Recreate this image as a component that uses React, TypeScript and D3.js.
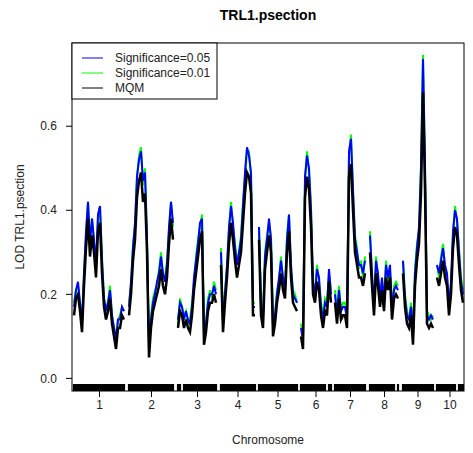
import React from 'react';
import * as d3 from 'd3';

// chromosome layout (cM), pseudomarker step 8 cM
const chromosomes = ['1', '2', '3', '4', '5', '6', '7', '8', '9', '10'];
const chrLengths = [204, 180, 156, 136, 152, 120, 124, 116, 120, 104];
const STEP = 8;
const GAP = 16;

// MQM LOD profile per chromosome
const mqmLod: number[][] = [
  [0.15, 0.19, 0.20, 0.16, 0.11, 0.22, 0.31, 0.38, 0.29, 0.34, 0.30, 0.24, 0.35, 0.37, 0.25, 0.17, 0.14, 0.16, 0.19, 0.13, 0.10, 0.07, 0.12, 0.12, 0.15, 0.14],
  [0.15, 0.20, 0.28, 0.33, 0.43, 0.47, 0.49, 0.42, 0.44, 0.30, 0.05, 0.12, 0.16, 0.18, 0.20, 0.22, 0.26, 0.22, 0.20, 0.24, 0.32, 0.38, 0.33],
  [0.12, 0.16, 0.15, 0.12, 0.14, 0.12, 0.11, 0.15, 0.21, 0.25, 0.29, 0.33, 0.35, 0.08, 0.11, 0.16, 0.18, 0.18, 0.20, 0.18],
  [0.27, 0.11, 0.18, 0.24, 0.32, 0.37, 0.33, 0.28, 0.24, 0.27, 0.30, 0.37, 0.44, 0.49, 0.48, 0.44, 0.15, 0.15],
  [0.33, 0.15, 0.12, 0.26, 0.30, 0.34, 0.30, 0.10, 0.13, 0.18, 0.21, 0.25, 0.21, 0.19, 0.30, 0.35, 0.24, 0.18, 0.17, 0.16],
  [0.10, 0.07, 0.43, 0.48, 0.45, 0.36, 0.20, 0.18, 0.23, 0.21, 0.15, 0.12, 0.16, 0.15, 0.23, 0.18],
  [0.18, 0.13, 0.19, 0.14, 0.15, 0.15, 0.12, 0.48, 0.51, 0.40, 0.30, 0.27, 0.24, 0.24, 0.22, 0.25],
  [0.30, 0.22, 0.15, 0.25, 0.22, 0.17, 0.21, 0.16, 0.24, 0.21, 0.24, 0.14, 0.19, 0.20, 0.19],
  [0.25, 0.17, 0.13, 0.12, 0.15, 0.08, 0.22, 0.28, 0.32, 0.44, 0.68, 0.45, 0.13, 0.12, 0.13, 0.12],
  [0.24, 0.22, 0.25, 0.28, 0.24, 0.22, 0.15, 0.20, 0.31, 0.36, 0.34, 0.27, 0.21, 0.18],
];

// Significance = 0.05
const sig05Lod: number[][] = [
  [0.17, 0.21, 0.23, 0.18, 0.13, 0.25, 0.35, 0.42, 0.32, 0.38, 0.33, 0.27, 0.39, 0.41, 0.28, 0.19, 0.16, 0.18, 0.21, 0.15, 0.12, 0.09, 0.14, 0.14, 0.17, 0.16],
  [0.17, 0.23, 0.31, 0.37, 0.48, 0.52, 0.54, 0.47, 0.49, 0.33, 0.07, 0.14, 0.18, 0.20, 0.23, 0.25, 0.29, 0.25, 0.23, 0.27, 0.36, 0.42, 0.37],
  [0.14, 0.18, 0.17, 0.14, 0.16, 0.14, 0.13, 0.17, 0.24, 0.28, 0.32, 0.37, 0.38, 0.10, 0.13, 0.18, 0.20, 0.20, 0.22, 0.20],
  [0.30, 0.13, 0.20, 0.27, 0.36, 0.41, 0.37, 0.31, 0.27, 0.30, 0.33, 0.41, 0.49, 0.55, 0.53, 0.49, 0.17, 0.17],
  [0.36, 0.17, 0.14, 0.29, 0.33, 0.38, 0.33, 0.12, 0.15, 0.20, 0.24, 0.28, 0.24, 0.21, 0.33, 0.39, 0.27, 0.20, 0.19, 0.18],
  [0.12, 0.09, 0.48, 0.53, 0.50, 0.40, 0.23, 0.20, 0.26, 0.24, 0.17, 0.14, 0.18, 0.17, 0.26, 0.20],
  [0.20, 0.15, 0.21, 0.16, 0.17, 0.17, 0.14, 0.54, 0.57, 0.45, 0.33, 0.30, 0.27, 0.27, 0.25, 0.28],
  [0.34, 0.25, 0.17, 0.28, 0.25, 0.19, 0.24, 0.18, 0.27, 0.24, 0.27, 0.16, 0.21, 0.22, 0.21],
  [0.28, 0.19, 0.15, 0.14, 0.17, 0.10, 0.25, 0.31, 0.36, 0.50, 0.76, 0.51, 0.15, 0.14, 0.15, 0.14],
  [0.27, 0.25, 0.28, 0.31, 0.27, 0.25, 0.17, 0.23, 0.35, 0.40, 0.38, 0.30, 0.23, 0.20],
];

// Significance = 0.01
const sig01Lod: number[][] = [
  [0.18, 0.21, 0.22, 0.18, 0.14, 0.25, 0.34, 0.42, 0.33, 0.38, 0.32, 0.27, 0.38, 0.41, 0.29, 0.19, 0.17, 0.18, 0.22, 0.15, 0.12, 0.10, 0.14, 0.15, 0.17, 0.16],
  [0.18, 0.22, 0.32, 0.36, 0.48, 0.53, 0.55, 0.46, 0.50, 0.34, 0.08, 0.15, 0.19, 0.21, 0.22, 0.26, 0.30, 0.24, 0.24, 0.28, 0.35, 0.42, 0.36],
  [0.13, 0.19, 0.17, 0.15, 0.16, 0.13, 0.14, 0.18, 0.23, 0.29, 0.33, 0.36, 0.39, 0.11, 0.13, 0.19, 0.21, 0.19, 0.23, 0.21],
  [0.31, 0.14, 0.21, 0.26, 0.35, 0.42, 0.36, 0.32, 0.28, 0.30, 0.34, 0.42, 0.48, 0.54, 0.54, 0.48, 0.18, 0.18],
  [0.36, 0.18, 0.15, 0.30, 0.34, 0.37, 0.34, 0.13, 0.15, 0.21, 0.23, 0.29, 0.23, 0.22, 0.34, 0.39, 0.26, 0.21, 0.20, 0.18],
  [0.13, 0.10, 0.47, 0.54, 0.49, 0.41, 0.22, 0.21, 0.27, 0.23, 0.18, 0.15, 0.19, 0.18, 0.25, 0.21],
  [0.21, 0.16, 0.22, 0.16, 0.18, 0.18, 0.15, 0.53, 0.58, 0.44, 0.34, 0.31, 0.26, 0.28, 0.24, 0.29],
  [0.35, 0.24, 0.18, 0.29, 0.24, 0.20, 0.23, 0.19, 0.28, 0.23, 0.26, 0.17, 0.22, 0.23, 0.22],
  [0.28, 0.20, 0.16, 0.14, 0.18, 0.11, 0.26, 0.32, 0.35, 0.51, 0.77, 0.50, 0.16, 0.15, 0.14, 0.15],
  [0.27, 0.24, 0.29, 0.32, 0.26, 0.24, 0.18, 0.22, 0.34, 0.41, 0.37, 0.31, 0.24, 0.21],
];

// pseudomarkers without a genotyped marker (gaps in the rug): [chromosome index, cM]
const rugGaps: [number, number][] = [[2, 16], [5, 104], [7, 104], [9, 80]];

const yTicks = [0.0, 0.2, 0.4, 0.6];

const legendItems = [
  { label: 'Significance=0.05', color: '#0000ff' },
  { label: 'Significance=0.01', color: '#00ff00' },
  { label: 'MQM', color: '#000000' },
];

const W = 473;
const H = 453;
const margin = { top: 43, right: 9, bottom: 62, left: 72 };
const FONT = '"Liberation Sans", Arial, sans-serif';

export default function App() {
  const plotW = W - margin.left - margin.right;
  const plotH = H - margin.top - margin.bottom;
  const left = margin.left;
  const top = margin.top;
  const bottom = top + plotH;
  const right = left + plotW;

  // chromosome offsets on the genome-wide axis
  const chrStart: number[] = [];
  let acc = 0;
  chrLengths.forEach((len) => {
    chrStart.push(acc);
    acc += len + GAP;
  });
  const total = acc - GAP;

  const x = d3.scaleLinear().domain([-8, total + 4]).range([left, right]);
  const y = d3.scaleLinear().domain([-0.03, 0.798]).range([bottom, top]);

  const line = d3
    .line<[number, number]>()
    .x((d) => x(d[0]))
    .y((d) => y(d[1]));

  const toPoints = (vals: number[], ci: number): [number, number][] =>
    vals.map((v, i) => [chrStart[ci] + i * STEP, v]);

  // green underneath, blue over it, MQM on top
  const series = [
    { data: sig01Lod, color: '#00ff00', width: 2 },
    { data: sig05Lod, color: '#0000ff', width: 2 },
    { data: mqmLod, color: '#000000', width: 2.5 },
  ];

  const rugPos: number[] = [];
  mqmLod.forEach((vals, ci) => {
    vals.forEach((_, i) => {
      const cm = i * STEP;
      if (!rugGaps.some(([c, p]) => c === ci && p === cm)) rugPos.push(chrStart[ci] + cm);
    });
  });

  return (
    <svg
      width={W}
      height={H}
      style={{ position: 'absolute', left: 0, top: 0, background: '#fff' }}
      fontFamily={FONT}
    >
      <defs>
        <clipPath id="plotClip">
          <rect x={left} y={top} width={plotW} height={plotH} />
        </clipPath>
      </defs>

      <text x={(left + right) / 2} y={20} textAnchor="middle" fontSize={14} fontWeight="bold">
        TRL1.psection
      </text>

      {/* curves */}
      <g clipPath="url(#plotClip)">
        {series.map((s, si) =>
          s.data.map((vals, ci) => (
            <path
              key={`${si}-${ci}`}
              d={line(toPoints(vals, ci)) || ''}
              fill="none"
              stroke={s.color}
              strokeWidth={s.width}
              strokeLinejoin="miter"
            />
          ))
        )}
        {/* rug of marker positions */}
        {rugPos.map((p, i) => (
          <line key={i} x1={x(p)} x2={x(p)} y1={bottom} y2={bottom - 7} stroke="#000" strokeWidth={2.2} />
        ))}
      </g>

      {/* box */}
      <rect x={left} y={top} width={plotW} height={plotH} fill="none" stroke="#000" strokeWidth={1} />

      {/* y axis */}
      {yTicks.map((t) => (
        <g key={t}>
          <line x1={left - 6} x2={left} y1={y(t)} y2={y(t)} stroke="#000" />
          <text x={left - 15} y={y(t)} dy="0.35em" textAnchor="end" fontSize={12} fill="#222">
            {t.toFixed(1)}
          </text>
        </g>
      ))}
      <text
        transform={`translate(24,${(top + bottom) / 2}) rotate(-90)`}
        textAnchor="middle"
        fontSize={12}
        fill="#222"
      >
        LOD TRL1.psection
      </text>

      {/* x axis */}
      {chromosomes.map((c, ci) => {
        const cx = x(chrStart[ci] + chrLengths[ci] / 2);
        return (
          <g key={c}>
            <line x1={cx} x2={cx} y1={bottom} y2={bottom + 6} stroke="#000" />
            <text x={cx} y={bottom + 18} textAnchor="middle" fontSize={12} fill="#222">
              {c}
            </text>
          </g>
        );
      })}
      <text x={(left + right) / 2} y={444} textAnchor="middle" fontSize={12} fill="#222">
        Chromosome
      </text>

      {/* legend */}
      <rect x={left} y={top} width={145} height={56} fill="#fff" stroke="#000" strokeWidth={1} />
      {legendItems.map((it, i) => (
        <g key={it.label}>
          <line x1={left + 10} x2={left + 31} y1={top + 15 + i * 15} y2={top + 15 + i * 15} stroke={it.color} strokeWidth={1} />
          <text x={left + 43} y={top + 15 + i * 15} dy="0.35em" fontSize={12} fill="#222">
            {it.label}
          </text>
        </g>
      ))}
    </svg>
  );
}
